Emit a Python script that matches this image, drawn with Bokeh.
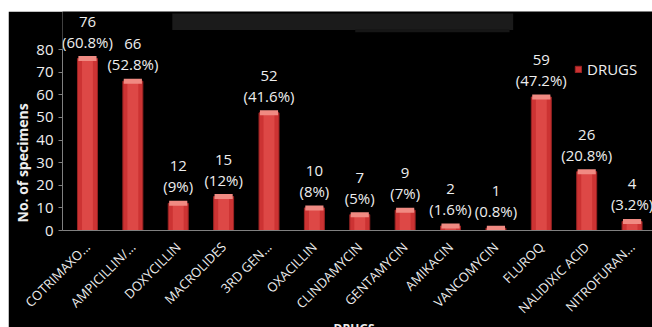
import math

from bokeh.core.properties import value
from bokeh.embed import file_html
from bokeh.models import (BoxAnnotation, ColumnDataSource, FixedTicker, Legend,
                          LegendItem, Range1d, Title)
from bokeh.plotting import figure
from bokeh.resources import INLINE

# Resistance counts per antibiotic group
drugs = ["COTRIMAXO...", "AMPICILLIN/...", "DOXYCILLIN", "MACROLIDES",
         "3RD GEN...", "OXACILLIN", "CLINDAMYCIN", "GENTAMYCIN", "AMIKACIN",
         "VANCOMYCIN", "FLUROQ", "NALIDIXIC ACID", "NITROFURAN..."]
specimens = [76, 66, 12, 15, 52, 10, 7, 9, 2, 1, 59, 26, 4]
percents = ["60.8%", "52.8%", "9%", "12%", "41.6%", "8%", "5%", "7%",
            "1.6%", "0.8%", "47.2%", "20.8%", "3.2%"]
y_ticks = [0, 10, 20, 30, 40, 50, 60, 70, 80]

FONT = "Open Sans"
TEXT = "#eeeeee"
AXIS = "#808080"

positions = list(range(len(drugs)))
source = ColumnDataSource(dict(
    x=positions,
    y=specimens,
    count=[str(v) for v in specimens],
    pct=["(" + s + ")" for s in percents],
))

p = figure(width=644, height=316, margin=(11, 0, 0, 8),
           output_backend="svg", toolbar_location=None,
           x_range=Range1d(-0.55, 12.45), y_range=Range1d(0, 96.8),
           min_border_left=54, min_border_right=0, min_border_top=0,
           min_border_bottom=97)
p.background_fill_color = "black"
p.border_fill_color = "black"
p.outline_line_color = None
p.xgrid.grid_line_color = None
p.ygrid.grid_line_color = None

# faint smudge across the top of the panel
p.add_layout(BoxAnnotation(left=1.87, right=9.38, bottom=88.6, top=95.9,
                           fill_color="#1b1b1b", fill_alpha=1,
                           line_color=None, level="underlay"))
p.add_layout(BoxAnnotation(left=5.9, right=9.3, bottom=87.6, top=89.0,
                           fill_color="#161616", fill_alpha=1,
                           line_color=None, level="underlay"))

bars = p.vbar(x="x", top="y", bottom=0, width=0.44, source=source,
              fill_color="#cc3333", line_color="#9a2323", line_width=1)
p.vbar(x="x", top="y", bottom=0, width=0.24, source=source,
       fill_color="#dd4846", line_color=None)
p.rect(x="x", y="y", width=0.4, height=5, height_units="screen", source=source,
       fill_color="#f08a82", line_color=None)

p.text(x="x", y="y", text="count", source=source, y_offset=-37,
       text_align="center", text_baseline="middle", text_color=TEXT,
       text_font=value(FONT), text_font_size="15px")
p.text(x="x", y="y", text="pct", source=source, y_offset=-17,
       text_align="center", text_baseline="middle", text_color=TEXT,
       text_font=value(FONT), text_font_size="15px")

# y axis
ya = p.yaxis[0]
ya.ticker = FixedTicker(ticks=y_ticks)
ya.bounds = (0, 80)
ya.axis_line_color = AXIS
ya.major_tick_line_color = AXIS
ya.major_tick_out = 4
ya.major_tick_in = 0
ya.minor_tick_line_color = None
ya.major_label_text_color = TEXT
ya.major_label_text_font = FONT
ya.major_label_text_font_size = "15px"
ya.major_label_standoff = 5

# x axis
xa = p.xaxis[0]
xa.ticker = FixedTicker(ticks=positions)
xa.major_label_overrides = {i: name for i, name in enumerate(drugs)}
xa.major_label_orientation = math.pi / 4
xa.axis_line_color = AXIS
xa.major_tick_line_color = None
xa.minor_tick_line_color = None
xa.major_label_text_color = TEXT
xa.major_label_text_font = FONT
xa.major_label_text_font_size = "13px"
xa.major_label_standoff = 8

# axis titles as side-panel titles so they can sit off-centre
p.add_layout(Title(text="No. of specimens", align="left", offset=8,
                   standoff=4, text_color=TEXT, text_font=FONT,
                   text_font_size="14px", text_font_style="bold"), "left")
p.add_layout(Title(text="DRUGS", align="left", offset=271, standoff=-18,
                   text_color=TEXT, text_font=FONT,
                   text_font_size="12px", text_font_style="bold"), "below")

legend = Legend(items=[LegendItem(label="DRUGS", renderers=[bars])],
                location=(512, 151), orientation="vertical",
                glyph_width=8, glyph_height=8, label_standoff=5,
                padding=0, margin=0, background_fill_alpha=0,
                border_line_alpha=0, label_text_color=TEXT,
                label_text_font=FONT, label_text_font_size="15px")
p.add_layout(legend)

open("out.html", "w").write(file_html(p, INLINE))
